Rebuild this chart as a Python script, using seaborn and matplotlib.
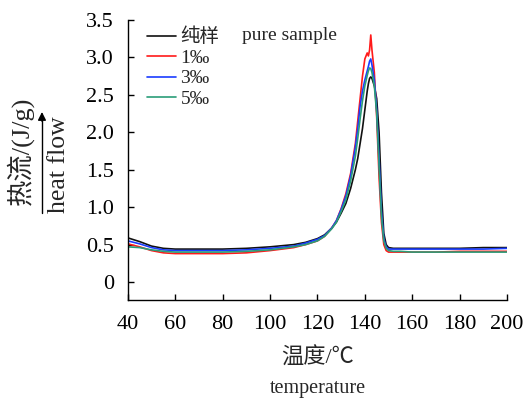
import matplotlib
matplotlib.use('Agg')
import matplotlib.pyplot as plt
import seaborn as sns
import pandas as pd
from matplotlib.ticker import FuncFormatter

temperature = [40, 45, 50, 55, 60, 70, 80, 90, 100, 110, 115, 120, 123, 126, 128, 130,
               132, 134, 136, 137, 138, 139, 140, 141, 141.5, 142, 142.5, 143, 144, 145,
               146, 147, 148, 149, 150, 152, 155, 160, 170, 180, 190, 200]

pure = [0.59, 0.54, 0.48, 0.45, 0.44, 0.44, 0.44, 0.45, 0.47, 0.50, 0.53, 0.58, 0.63, 0.72,
        0.80, 0.92, 1.05, 1.25, 1.50, 1.65, 1.85, 2.05, 2.30, 2.55, 2.65, 2.72, 2.74, 2.72,
        2.62, 2.45, 2.00, 1.20, 0.65, 0.50, 0.46, 0.45, 0.45, 0.45, 0.45, 0.45, 0.46, 0.46]
s1 = [0.51, 0.47, 0.42, 0.39, 0.38, 0.38, 0.38, 0.39, 0.42, 0.46, 0.50, 0.55, 0.61, 0.72,
      0.82, 0.98, 1.18, 1.45, 1.85, 2.15, 2.45, 2.75, 2.98, 3.06, 3.02, 3.10, 3.30, 3.10,
      2.80, 2.20, 1.40, 0.80, 0.50, 0.42, 0.40, 0.40, 0.40, 0.40, 0.40, 0.41, 0.41, 0.41]
s3 = [0.55, 0.51, 0.46, 0.43, 0.42, 0.42, 0.42, 0.43, 0.45, 0.48, 0.52, 0.57, 0.62, 0.72,
      0.82, 0.97, 1.15, 1.42, 1.80, 2.05, 2.35, 2.55, 2.70, 2.82, 2.88, 2.95, 2.98, 2.90,
      2.70, 2.30, 1.65, 0.95, 0.58, 0.47, 0.44, 0.44, 0.44, 0.44, 0.44, 0.44, 0.44, 0.45]
s5 = [0.47, 0.46, 0.43, 0.41, 0.40, 0.40, 0.40, 0.41, 0.43, 0.47, 0.50, 0.55, 0.61, 0.71,
      0.80, 0.94, 1.10, 1.35, 1.68, 1.92, 2.18, 2.42, 2.62, 2.76, 2.82, 2.86, 2.85, 2.80,
      2.62, 2.25, 1.55, 0.88, 0.55, 0.45, 0.42, 0.41, 0.41, 0.40, 0.40, 0.40, 0.40, 0.40]

labels = ['纯样', '1‰', '3‰', '5‰']
colors = ['#111111', '#ff1a1a', '#1a3cff', '#2a9d78']

rows = []
for lab, vals in zip(labels, [pure, s1, s3, s5]):
    for t, v in zip(temperature, vals):
        rows.append({'T': t, 'heat': v, 'sample': lab})
df = pd.DataFrame(rows)

sns.set_style('ticks')
plt.rcParams['font.family'] = ['Liberation Serif', 'Noto Sans CJK SC', 'DejaVu Sans']

fig = plt.figure(figsize=(5.26, 4), dpi=100)
ax = fig.add_axes([0.243, 0.25, 0.721, 0.70])

sns.lineplot(data=df, x='T', y='heat', hue='sample', palette=colors, hue_order=labels,
             ax=ax, linewidth=1.2, estimator=None, sort=False)

ax.set_xlim(40, 200)
ax.set_ylim(-0.24, 3.5)
ax.set_xticks(range(40, 201, 20))
ax.set_yticks([0, 0.5, 1.0, 1.5, 2.0, 2.5, 3.0, 3.5])
ax.yaxis.set_major_formatter(FuncFormatter(lambda v, p: '0' if v == 0 else f'{v:.1f}'))
ax.tick_params(direction='in', length=4, width=1, labelsize=16, colors='black')
ax.tick_params(axis='x', pad=11)
ax.tick_params(axis='y', pad=10)
for s in ['top', 'right']:
    ax.spines[s].set_visible(False)
for s in ['left', 'bottom']:
    ax.spines[s].set_color('black')
    ax.spines[s].set_linewidth(1)
ax.set_xlabel('')
ax.set_ylabel('')

leg = ax.legend(loc='upper left', bbox_to_anchor=(0.031, 1.0), frameon=False, fontsize=14,
                handlelength=1.45, handletextpad=0.25, labelspacing=0.15, borderaxespad=0)
fig.text(242 / 526, 365 / 400, 'pure sample', fontsize=14, va='center', ha='left')

fig.text(0.038, 0.6225, '热流/(J/g)', rotation=90, ha='center', va='center', fontsize=19)
fig.text(0.112, 0.5875, 'heat flow', rotation=90, ha='center', va='center', fontsize=18.5)
fig.add_artist(plt.Line2D([0.0798, 0.0798], [0.4675, 0.70], color='black', linewidth=1,
                          transform=fig.transFigure))
ax.annotate('', xy=(0.0798, 0.727), xytext=(0.0798, 0.69), xycoords='figure fraction',
            arrowprops=dict(arrowstyle='-|>', color='black', lw=1, mutation_scale=12))

fig.text(0.603, 0.105, '温度/℃', ha='center', va='center', fontsize=16)
fig.text(0.605, 0.03, 'temperature', ha='center', va='center', fontsize=14.5)

fig.savefig('out.png', dpi=100)
